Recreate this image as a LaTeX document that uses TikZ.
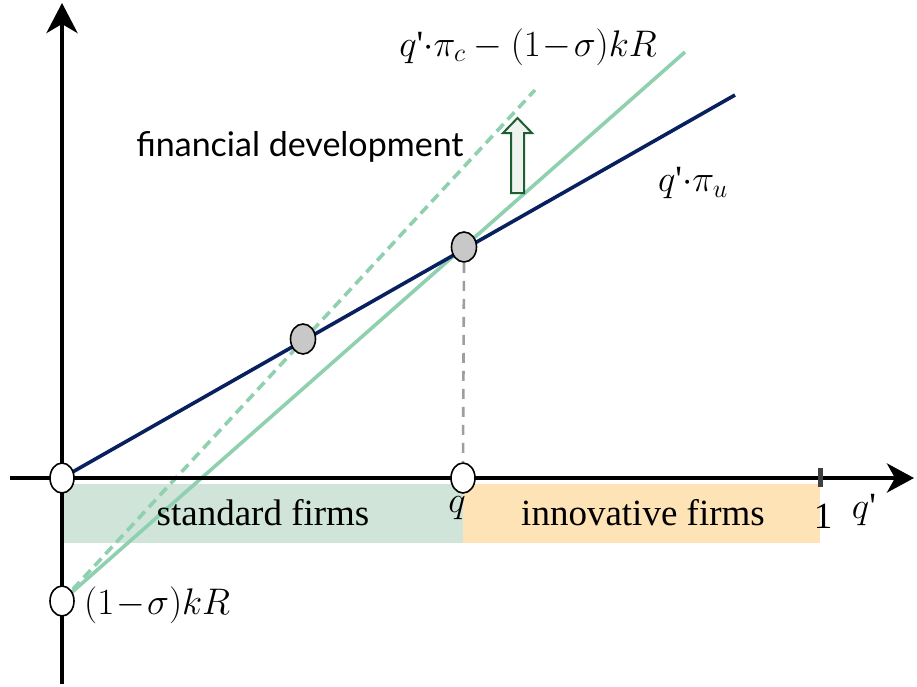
\RequirePackage{fix-cm}
\documentclass[tikz,border=0pt]{standalone}
\usepackage{fontspec}
\setmainfont{Liberation Serif}
\newfontfamily\fdsans{Lato}
\usetikzlibrary{arrows.meta,shapes.geometric}
\definecolor{navy}{RGB}{8,32,96}
\definecolor{lgreen}{RGB}{143,208,176}
\definecolor{stdfill}{RGB}{208,228,218}
\definecolor{innfill}{RGB}{253,227,181}
\definecolor{dotgray}{RGB}{200,200,200}
\definecolor{arrgreen}{RGB}{30,94,50}
\definecolor{arrfill}{RGB}{238,243,240}
\newcommand{\qp}{$q$\textquotesingle}
\begin{document}
\begin{tikzpicture}[x=1pt,y=-1pt,
  axis/.style={line width=4.5pt,draw=black},
  opendot/.style={ellipse,draw=black,line width=1.6pt,fill=white,minimum width=24pt,minimum height=30pt,inner sep=0pt},
  graydot/.style={ellipse,draw=black,line width=1.6pt,fill=dotgray,minimum width=25pt,minimum height=30pt,inner sep=0pt},
  uline/.style={line width=3.6pt,draw=navy},
  cline/.style={line width=3.6pt,draw=lgreen},
  mathlbl/.style={font=\fontsize{37}{42}\selectfont,inner sep=0pt},
  txtlbl/.style={font=\fontsize{37}{42}\selectfont,inner sep=0pt},
]
\useasboundingbox (0,0) rectangle (917,686);
% regions
\fill[stdfill] (62,484) rectangle (463,543);
\fill[innfill] (463,484) rectangle (820,543);
% coordinates
\coordinate (uend) at (735,95);
\coordinate (cend) at (685,52);
\coordinate (dend) at (535,90);
\coordinate (ybot) at (62,684);
\coordinate (ytop) at (62,3);
\coordinate (xleft) at (10,478);
\coordinate (xright) at (914,478);
% node positions
\path (62,478) coordinate (oc);
\path (62,601) coordinate (kc);
\path (303,339) coordinate (mc);
\path (464,247) coordinate (ec);
\path (463,478) coordinate (qc);
% lines
\draw[cline,dash pattern=on 10pt off 6pt] (kc) -- (dend);
\draw[cline] (kc) -- (cend);
\draw[uline] (oc) -- (uend);
% axes
\draw[axis,-{Stealth[length=30pt,width=31pt,inset=9pt]}] (ybot) -- (ytop);
\draw[axis,-{Stealth[length=27pt,width=29pt,inset=8pt]}] (xleft) -- (xright);
% tick at 1
\fill[black!75] (818,468) rectangle (823,487);
% dots
\node[opendot] (o) at (oc) {};
\node[opendot] (k) at (kc) {};
\node[opendot] (q) at (qc) {};
\node[graydot] (m) at (mc) {};
\node[graydot] (e) at (ec) {};
% dashed gray vertical
\draw[line width=2.6pt,draw=black!38,dash pattern=on 10pt off 8pt] (e.south) -- (q.north);
% hollow arrow
\draw[draw=arrgreen,fill=arrfill,line width=2pt,line join=miter]
  (511,193) -- (511,133) -- (503,133) -- (517.5,118) -- (532,133) -- (524,133) -- (524,193) -- cycle;
% labels
\node[mathlbl] (lc) at (528,47) {\qp$\cdot\pi_c-(1\!-\!\sigma)kR$};
\node[mathlbl] (lu) at (693,183) {\qp$\cdot\pi_u$};
\node[font=\fdsans\fontsize{34}{40}\selectfont,inner sep=0pt] (lf) at (300,147) {financial development};
\node[txtlbl] (ls) at (263,513) {standard firms};
\node[txtlbl] (li) at (643,513) {innovative firms};
\node[mathlbl] (lq) at (457,508) {$q$};
\node[txtlbl] (l1) at (823,516) {1};
\node[mathlbl] (lqp) at (864,510) {\qp};
\node[mathlbl,anchor=west] (lk) at (84,605) {$(1\!-\!\sigma)kR$};
\end{tikzpicture}
\end{document}
